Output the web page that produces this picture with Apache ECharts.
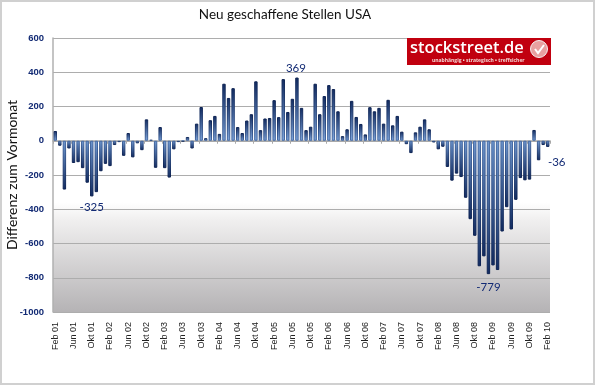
<!DOCTYPE html>
<html>
<head>
<meta charset="utf-8">
<title>Neu geschaffene Stellen USA</title>
<script src="https://cdn.jsdelivr.net/npm/echarts@6/dist/echarts.min.js"></script>
<style>
  html, body { margin: 0; padding: 0; background: #fff; }
  #chart { width: 595px; height: 385px; }
  #frame { position: absolute; left: 0; top: 0; width: 595px; height: 385px; box-sizing: border-box;
           border: 2px solid #d0d0d0; pointer-events: none; }
</style>
</head>
<body>
<div id="chart"></div>
<div id="frame"></div>
<script>
// Monatsnamen ab Februar, Jahre 01 bis 10
const monthNames = ['Feb', 'Mrz', 'Apr', 'Mai', 'Jun', 'Jul', 'Aug', 'Sep', 'Okt', 'Nov', 'Dez', 'Jan']
const yearLabels = ['01', '02', '03', '04', '05', '06', '07', '08', '09', '10']

// Differenz zum Vormonat
const values2001 = [57, -29, -285, -45, -130, -125, -160, -245, -325, -300, -178]
const values2002 = [-135, -148, -25, -8, -88, 45, -97, -15, -55, 125, 5, -158]
const values2003 = [80, -160, -215, -50, -8, -3, 22, -45, 100, 197, 15, 120]
const values2004 = [145, 40, 333, 250, 307, 80, 45, 118, 155, 347, 62, 130]
const values2005 = [133, 237, 138, 360, 168, 245, 369, 192, 62, 82, 333, 155]
const values2006 = [261, 325, 302, 172, 27, 67, 233, 139, 98, 37, 196, 172]
const values2007 = [192, 100, 239, 90, 145, 53, -20, -72, 49, 82, 125, 67]
const values2008 = [-10, -50, -35, -153, -233, -192, -212, -333, -458, -555, -733, -675]
const values2009 = [-779, -728, -755, -530, -388, -518, -345, -218, -231, -227, 63, -114]
const values2010 = [-25, -36]

const jobValues = [].concat(values2001, values2002, values2003, values2004, values2005,
  values2006, values2007, values2008, values2009, values2010)

const categories = jobValues.map((v, i) => {
  const year = yearLabels[Math.floor((i + 1) / 12)]
  return monthNames[i % 12] + ' ' + year
})

// beschriftete Balken: Index -> Versatz des Labels
const labelled = { 8: [0, 0], 53: [-1, 2], 95: [0, 2], 108: [9, 4] }

const navy = '#122a74'
const dark = '#0b2050'
const up = new echarts.graphic.LinearGradient(0, 0, 0, 1, [
  { offset: 0, color: '#122c62' },
  { offset: 1, color: '#7fa6dc' }
])
const down = new echarts.graphic.LinearGradient(0, 0, 0, 1, [
  { offset: 0, color: '#6f98d0' },
  { offset: 1, color: '#122c62' }
])
const upBorder = new echarts.graphic.LinearGradient(0, 0, 0, 1, [
  { offset: 0, color: dark },
  { offset: 1, color: '#456aa4' }
])
const downBorder = new echarts.graphic.LinearGradient(0, 0, 0, 1, [
  { offset: 0, color: '#456aa4' },
  { offset: 1, color: dark }
])

const barData = jobValues.map((v, i) => {
  const item = {
    value: v,
    itemStyle: { color: v >= 0 ? up : down, borderColor: v >= 0 ? upBorder : downBorder }
  }
  if (labelled[i]) {
    item.label = {
      show: true,
      position: v >= 0 ? 'top' : 'bottom',
      offset: labelled[i],
      formatter: String(v),
      fontFamily: 'Lato',
      fontSize: 11.5,
      color: navy
    }
  }
  return item
})

const myChart = echarts.init(document.getElementById('chart'), null, { renderer: 'canvas' })

myChart.setOption({
  animation: false,
  title: {
    text: 'Neu geschaffene Stellen USA',
    left: 280,
    top: 3,
    textAlign: 'center',
    textStyle: { fontFamily: 'Lato', fontSize: 13.5, fontWeight: 'normal', color: '#111' }
  },
  grid: {
    left: 53,
    right: 45,
    top: 38,
    bottom: 73,
    outerBoundsMode: 'none',
    show: true,
    borderWidth: 0,
    backgroundColor: new echarts.graphic.LinearGradient(0, 0, 0, 1, [
      { offset: 0, color: '#ffffff' },
      { offset: 0.6, color: '#ffffff' },
      { offset: 0.66, color: '#f1f0f0' },
      { offset: 1, color: '#b5b3b5' }
    ])
  },
  xAxis: [
    {
      type: 'category',
      data: categories,
      position: 'bottom',
      axisLine: { onZero: false, show: false },
      axisTick: { show: false },
      axisLabel: {
        interval: 3,
        rotate: 90,
        margin: 10,
        fontFamily: 'Liberation Sans',
        fontSize: 9,
        color: '#222'
      }
    },
    {
      // Nulllinie mit den kleinen Strichen, Beschriftung sitzt am ersten Axis
      type: 'category',
      data: categories,
      position: 'bottom',
      axisLine: { onZero: true, lineStyle: { color: '#a8a8a8', width: 1.5 } },
      axisTick: { show: true, interval: 3, length: 3, lineStyle: { color: '#a8a8a8' } },
      axisLabel: { show: false }
    }
  ],
  yAxis: {
    type: 'value',
    min: -1000,
    max: 600,
    interval: 200,
    name: 'Differenz zum Vormonat',
    nameLocation: 'middle',
    nameGap: 34,
    nameMoveOverlap: false,
    nameTextStyle: { fontFamily: 'Lato', fontSize: 14, color: '#111' },
    axisLine: { show: true, onZero: false, lineStyle: { color: '#b0b0b0', width: 1.5 } },
    axisTick: { show: false },
    axisLabel: {
      margin: 9,
      formatter: value => String(value),
      fontFamily: 'Liberation Sans',
      fontSize: 9.5,
      fontWeight: 'bold',
      color: navy
    },
    splitLine: { show: true, lineStyle: { color: '#adadad', width: 1 } }
  },
  series: [
    {
      type: 'bar',
      xAxisIndex: 0,
      barWidth: 3.4,
      data: barData,
      itemStyle: { borderWidth: 1 }
    }
  ],
  graphic: [
    { type: 'rect', z: 100, shape: { x: 407, y: 38, width: 144, height: 27 }, style: { fill: '#c1000f' } },
    { type: 'text', z: 101, x: 410, y: 40, style: { text: 'stockstreet.de', fill: '#fff', font: '600 16.5px "Open Sans"' } },
    { type: 'text', z: 101, x: 432, y: 58, style: { text: 'unabhängig • strategisch • treffsicher', fill: '#f3d5d5', font: 'bold 5px "Open Sans"' } },
    { type: 'circle', z: 101, shape: { cx: 539, cy: 49, r: 8.5 }, style: { fill: '#e8a0a0', stroke: '#f4f0f0', lineWidth: 1 } },
    { type: 'polyline', z: 102, shape: { points: [[535, 49], [538, 53], [544, 45]] }, style: { stroke: '#fff', lineWidth: 2, fill: 'none' } }
  ]
})
</script>
</body>
</html>
